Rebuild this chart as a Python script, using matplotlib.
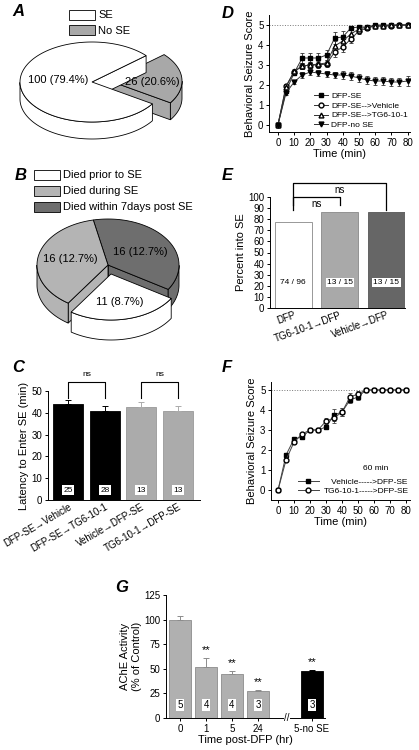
import numpy as np
import matplotlib
matplotlib.use("Agg")
import matplotlib.pyplot as plt
from matplotlib.patches import Polygon, Rectangle
from matplotlib.lines import Line2D

plt.rcParams['font.family'] = ['Liberation Sans', 'DejaVu Sans']
plt.rcParams['axes.linewidth'] = 0.7
plt.rcParams['xtick.major.width'] = 0.7
plt.rcParams['ytick.major.width'] = 0.7
plt.rcParams['xtick.major.size'] = 2.5
plt.rcParams['ytick.major.size'] = 2.5
plt.rcParams['xtick.labelsize'] = 7
plt.rcParams['ytick.labelsize'] = 7

# ---- data ----
# A: seizure outcome
a_labels = ["SE", "No SE"]
a_counts = [100, 26]
a_text = ["100 (79.4%)", "26 (20.6%)"]
# B: deaths
b_labels = ["Died prior to SE", "Died during SE", "Died within 7days post SE"]
b_counts = [11, 16, 16]
b_text = ["11 (8.7%)", "16 (12.7%)", "16 (12.7%)"]
# C: latency
c_groups = ["DFP-SE\u2192Vehicle", "DFP-SE\u2192TG6-10-1", "Vehicle\u2192DFP-SE", "TG6-10-1\u2192DFP-SE"]
c_mean = [44, 41, 42.5, 41]
c_err = [2, 2, 2.3, 2.3]
c_n = [25, 28, 13, 13]
# D: seizure score time course
time = np.arange(0, 85, 5)
d_se = [0, 1.7, 2.6, 3.35, 3.35, 3.35, 3.5, 4.35, 4.4, 4.85, 4.9, 4.9, 5.0, 5.0, 5.0, 5.0, 5.0]
d_se_err = [0, 0.1, 0.1, 0.25, 0.25, 0.25, 0.25, 0.3, 0.3, 0.1, 0.1, 0.08, 0.05, 0.05, 0.05, 0.05, 0.05]
d_veh = [0, 1.95, 2.65, 2.95, 3.0, 3.0, 3.05, 3.65, 3.9, 4.3, 4.7, 4.85, 4.95, 4.95, 4.95, 5.0, 5.0]
d_veh_err = [0, 0.1, 0.1, 0.15, 0.15, 0.15, 0.15, 0.25, 0.25, 0.2, 0.15, 0.1, 0.05, 0.05, 0.05, 0.0, 0.0]
d_tg = [0, 1.9, 2.7, 2.95, 3.0, 3.05, 3.1, 3.95, 4.2, 4.55, 4.8, 4.9, 4.95, 4.95, 5.0, 5.0, 5.0]
d_tg_err = [0, 0.1, 0.1, 0.15, 0.15, 0.15, 0.15, 0.25, 0.25, 0.2, 0.15, 0.1, 0.05, 0.05, 0.0, 0.0, 0.0]
d_nose = [0, 1.6, 2.15, 2.5, 2.65, 2.6, 2.55, 2.5, 2.5, 2.45, 2.35, 2.25, 2.2, 2.2, 2.15, 2.15, 2.2]
d_nose_err = [0, 0.1, 0.1, 0.15, 0.15, 0.15, 0.15, 0.15, 0.2, 0.2, 0.2, 0.2, 0.2, 0.2, 0.2, 0.2, 0.25]
# E: percent into SE
e_groups = ["DFP", "TG6-10-1\u2192DFP", "Vehicle\u2192DFP"]
e_into = [74, 13, 13]
e_total = [96, 15, 15]
# F: pretreatment time course
f_veh = [0, 1.75, 2.55, 2.65, 3.0, 3.0, 3.15, 3.75, 3.9, 4.5, 4.65, 5, 5, 5, 5, 5, 5]
f_veh_err = [0, 0.1, 0.1, 0.1, 0.05, 0.05, 0.1, 0.3, 0.2, 0.15, 0.15, 0, 0, 0, 0, 0, 0]
f_tg = [0, 1.5, 2.4, 2.8, 3.0, 3.0, 3.45, 3.6, 3.9, 4.65, 4.8, 5, 5, 5, 5, 5, 5]
f_tg_err = [0, 0.1, 0.1, 0.05, 0.0, 0.0, 0.15, 0.25, 0.2, 0.2, 0.15, 0, 0, 0, 0, 0, 0]
# G: AChE activity
g_labels = ["0", "1", "5", "24", "5-no SE"]
g_pos = [0, 1, 2, 3, 5.08]
g_mean = [100, 52, 44.5, 27, 48]
g_err = [4, 9, 3.5, 1.5, 1]
g_n = [5, 4, 4, 3, 3]

W, H = 419, 750
fig = plt.figure(figsize=(W / 100, H / 100), dpi=100)


def rect(l, t, r, b):
    return [l / W, 1 - b / H, (r - l) / W, (b - t) / H]


def style(ax):
    ax.spines['top'].set_visible(False)
    ax.spines['right'].set_visible(False)
    ax.tick_params(direction='out', pad=1.5)


def upbars(ax, xs, ys, errs, cols):  # upper-only error bars, one colour per bar
    for x, y, e, c in zip(xs, ys, errs, cols):
        ax.errorbar([x], [y], yerr=[[0], [e]], fmt='none', ecolor=c, elinewidth=0.7, capsize=2, capthick=0.7)


# overlay axes in pixel coordinates for the pies
ov = fig.add_axes([0, 0, 1, 1])
ov.set_xlim(0, W)
ov.set_ylim(H, 0)
ov.axis('off')


def pie3d(ax, counts, colors, start, cx, cy, rx, ry, depth, offsets):
    total = float(sum(counts))
    slices = []
    a = start
    for n, col, off in zip(counts, colors, offsets):
        span = 360.0 * n / total
        slices.append((a, a + span, col, off))
        a += span
    # back to front
    slices.sort(key=lambda s: -np.sin(np.radians((s[0] + s[1]) / 2)))
    for a0, a1, col, (dx, dy) in slices:
        ox, oy = cx + dx, cy + dy
        t = np.radians(np.linspace(a0, a1, 200))
        xs = ox + rx * np.cos(t)
        ys = oy - ry * np.sin(t)
        kw = dict(facecolor=col, edgecolor='black', lw=0.6)
        # radial walls
        for ang, vis in ((a0, np.cos(np.radians(a0)) > 0), (a1, np.cos(np.radians(a1)) < 0)):
            if vis:
                px = ox + rx * np.cos(np.radians(ang))
                py = oy - ry * np.sin(np.radians(ang))
                ax.add_patch(Polygon([(ox, oy), (px, py), (px, py + depth), (ox, oy + depth)], **kw))
        # outer wall
        front = np.sin(t) < 0
        i = 0
        while i < len(t):
            if front[i]:
                j = i
                while j < len(t) and front[j]:
                    j += 1
                top = list(zip(xs[i:j], ys[i:j]))
                bot = list(zip(xs[i:j], ys[i:j] + depth))[::-1]
                ax.add_patch(Polygon(top + bot, **kw))
                i = j
            else:
                i += 1
        ax.add_patch(Polygon([(ox, oy)] + list(zip(xs, ys)), **kw))


# ---- A ----
fig.text(12 / W, 1 - 16 / H, "A", fontsize=12, fontweight='bold', style='italic')
pie3d(ov, a_counts[::-1], ['#a8a8a8', 'white'], -33, 92, 82, 72, 40, 17, [(18, -1), (0, 0)])
ov.text(58, 80, a_text[0], fontsize=8, ha='center', va='center')
ov.text(152, 82, a_text[1], fontsize=8, ha='center', va='center')
for i, (lab, col) in enumerate(zip(a_labels, ['white', '#a8a8a8'])):
    ov.add_patch(Rectangle((69, 10 + i * 15), 26, 10, facecolor=col, edgecolor='black', lw=0.6))
    ov.text(98, 15.5 + i * 15, lab, fontsize=8, va='center')

# ---- B ----
fig.text(15 / W, 1 - 180 / H, "B", fontsize=12, fontweight='bold', style='italic')
b_cols = ['white', '#b4b4b4', '#6e6e6e']
# order around the pie: dark, light, white starting at -32 deg
pie3d(ov, [b_counts[2], b_counts[1], b_counts[0]], [b_cols[2], b_cols[1], b_cols[0]], -32,
      108, 265, 71, 46, 20, [(0, 0), (0, 0), (3, 9)])
ov.text(120, 302, b_text[0], fontsize=8, ha='center', va='center')
ov.text(70, 259, b_text[1], fontsize=8, ha='center', va='center')
ov.text(140, 252, b_text[2], fontsize=8, ha='center', va='center')
for i, (lab, col) in enumerate(zip(b_labels, b_cols)):
    ov.add_patch(Rectangle((34, 170 + i * 16), 26, 10, facecolor=col, edgecolor='black', lw=0.6))
    ov.text(63, 175.5 + i * 16, lab, fontsize=8, va='center')

# ---- C ----
fig.text(12 / W, 1 - 372 / H, "C", fontsize=12, fontweight='bold', style='italic')
axc = fig.add_axes(rect(48, 391, 200, 500))
style(axc)
xc = np.arange(len(c_groups))
c_cols = ['black', 'black', '#ababab', '#ababab']
axc.bar(xc, c_mean, width=0.82, color=c_cols, edgecolor=['black', 'black', '#999999', '#999999'], lw=0.6)
upbars(axc, xc, c_mean, c_err, c_cols)
for x, n in zip(xc, c_n):
    axc.text(x, 4.5, str(n), fontsize=6, ha='center', va='center',
             bbox=dict(boxstyle='square,pad=0.15', facecolor='white', edgecolor='none'))
axc.set_xlim(-0.55, 3.6)
axc.set_ylim(0, 50)
axc.set_yticks(range(0, 51, 10))
axc.set_xticks(xc)
axc.set_xticklabels(c_groups, rotation=30, ha='right', rotation_mode='anchor', fontsize=7)
axc.tick_params(axis='x', length=0)
axc.set_ylabel("Latency to Enter SE (min)", fontsize=8, labelpad=2)
for x0, x1 in ((0, 1), (2, 3)):
    axc.plot([x0, x0, x1, x1], [47, 54, 54, 47], color='black', lw=0.8, clip_on=False)
    axc.text((x0 + x1) / 2, 56, "ns", fontsize=6, ha='center', va='bottom')

# ---- D ----
fig.text(222 / W, 1 - 18 / H, "D", fontsize=12, fontweight='bold', style='italic')
axd = fig.add_axes(rect(269, 15, 410, 132))
style(axd)
axd.axhline(5, color='#777777', ls=':', lw=0.7)
d_series = [(d_se, d_se_err, 's', 'black'), (d_veh, d_veh_err, 'o', 'white'),
            (d_tg, d_tg_err, '^', 'white'), (d_nose, d_nose_err, 'v', 'black')]
for y, e, m, fc in d_series:
    axd.errorbar(time, y, yerr=e, fmt='-' + m, color='#333333', mfc=fc, mec='black', ms=3.5,
                 lw=0.7, elinewidth=0.6, capsize=1.5, capthick=0.6)
axd.set_xlim(-5.5, 81.5)
axd.set_ylim(-0.35, 5.5)
axd.set_xticks(range(0, 81, 10))
axd.set_yticks(range(0, 6))
axd.set_xlabel("Time (min)", fontsize=8, labelpad=1)
axd.set_ylabel("Behavioral Seizure Score", fontsize=8, labelpad=2)
d_names = ["DFP-SE", "DFP-SE-->Vehicle", "DFP-SE-->TG6-10-1", "DFP-no SE"]
hd = [Line2D([], [], color='#333333', lw=0.7, marker=m, mfc=fc, mec='black', ms=3.5) for _, _, m, fc in d_series]
axd.legend(hd, d_names, fontsize=6, frameon=False, loc='lower right', bbox_to_anchor=(1.02, -0.02),
           handlelength=1.6, handletextpad=0.4, labelspacing=0.25, borderaxespad=0.2)

# ---- E ----
fig.text(222 / W, 1 - 180 / H, "E", fontsize=12, fontweight='bold', style='italic')
axe = fig.add_axes(rect(270, 197, 405, 308))
style(axe)
xe = np.arange(len(e_groups))
e_pct = [100.0 * a / b for a, b in zip(e_into, e_total)]
axe.bar(xe, e_pct, width=0.8, color=['white', '#a9a9a9', '#666666'],
        edgecolor=['#888888', '#888888', '#555555'], lw=0.6)
for x, a, b, boxed in zip(xe, e_into, e_total, [False, True, True]):
    kw = dict(boxstyle='square,pad=0.15', facecolor='white', edgecolor='none') if boxed else None
    axe.text(x, 23, "%d / %d" % (a, b), fontsize=6, ha='center', va='center', bbox=kw)
axe.set_xlim(-0.5, 2.4)
axe.set_ylim(0, 100)
axe.set_yticks(range(0, 101, 10))
axe.set_xticks(xe)
axe.set_xticklabels(e_groups, rotation=20, ha='right', rotation_mode='anchor', fontsize=7)
axe.tick_params(axis='x', length=0)
axe.set_ylabel("Percent into SE", fontsize=8, labelpad=2)
axe.plot([0, 0, 2, 2], [88, 112.5, 112.5, 88], color='black', lw=0.9, clip_on=False)
axe.text(1, 110.5, "ns", fontsize=7, ha='center', va='top')
axe.plot([0, 0, 1, 1], [93, 100, 100, 93], color='black', lw=0.9, clip_on=False)
axe.text(0.5, 98.5, "ns", fontsize=7, ha='center', va='top')

# ---- F ----
fig.text(222 / W, 1 - 372 / H, "F", fontsize=12, fontweight='bold', style='italic')
axf = fig.add_axes(rect(271, 382, 410, 500))
style(axf)
axf.axhline(5, color='#777777', ls=':', lw=0.7)
f_series = [(f_veh, f_veh_err, 's', 'black'), (f_tg, f_tg_err, 'o', 'white')]
for y, e, m, fc in f_series:
    axf.errorbar(time, y, yerr=e, fmt='-' + m, color='#444444', mfc=fc, mec='black', ms=3.5,
                 lw=0.7, elinewidth=0.6, capsize=1.5, capthick=0.6)
axf.set_xlim(-4.4, 82.5)
axf.set_ylim(-0.5, 5.4)
axf.set_xticks(range(0, 81, 10))
axf.set_yticks(range(0, 6))
axf.set_xlabel("Time (min)", fontsize=8, labelpad=1)
axf.set_ylabel("Behavioral Seizure Score", fontsize=8, labelpad=2)
hf = [Line2D([], [], color='#444444', lw=0.7, marker=m, mfc=fc, mec='black', ms=3.5) for _, _, m, fc in f_series]
axf.legend(hf, ["   Vehicle----->DFP-SE", "TG6-10-1----->DFP-SE"], fontsize=6, frameon=False,
           loc='lower right', bbox_to_anchor=(1.03, 0.0),
           handlelength=2.6, handletextpad=0.6, labelspacing=0.2, borderaxespad=0.2)
axf.text(61, 1.05, "60 min", fontsize=6, ha='center', va='center')

# ---- G ----
fig.text(115 / W, 1 - 592 / H, "G", fontsize=12, fontweight='bold', style='italic')
axg = fig.add_axes(rect(166, 595, 325, 718))
style(axg)
g_cols = ['#b0b0b0'] * 4 + ['black']
g_edge = ['#8c8c8c'] * 4 + ['black']
axg.bar(g_pos, g_mean, width=0.82, color=g_cols, edgecolor=g_edge, lw=0.6)
upbars(axg, g_pos, g_mean, g_err, g_edge)
for x, m, e, n, i in zip(g_pos, g_mean, g_err, g_n, range(5)):
    axg.text(x, 13, str(n), fontsize=7, ha='center', va='center',
             bbox=dict(boxstyle='square,pad=0.1', facecolor='white', edgecolor='none'))
    if i > 0:
        axg.text(x, m + e + 3, "**", fontsize=8, ha='center', va='bottom')
axg.set_xlim(-0.54, 5.58)
axg.set_ylim(0, 125)
axg.set_yticks(range(0, 126, 25))
axg.set_xticks(g_pos)
axg.set_xticklabels(g_labels, fontsize=7)
axg.spines['bottom'].set_visible(False)
axg.plot([-0.54, 3.95], [0, 0], color='black', lw=0.7, clip_on=False)
axg.plot([4.25, 5.58], [0, 0], color='black', lw=0.7, clip_on=False)
axg.text(4.1, 0, "//", fontsize=7, ha='center', va='center')
axg.set_xlabel("Time post-DFP (hr)", fontsize=8, labelpad=1)
axg.set_ylabel("AChE Activity\n(% of Control)", fontsize=8, labelpad=2)

fig.savefig("out.png", dpi=100)
